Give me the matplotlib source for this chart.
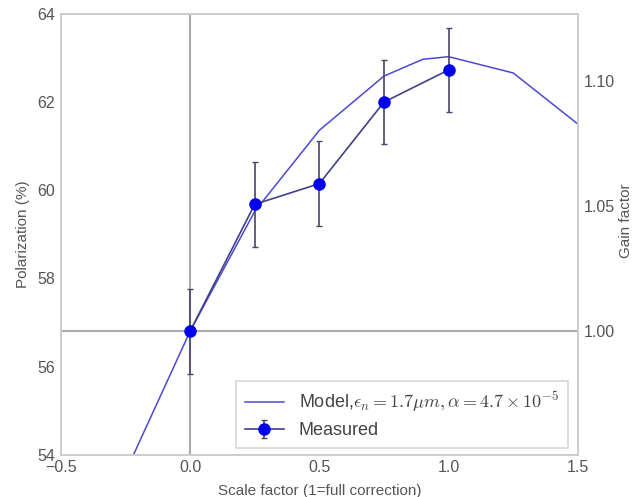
import numpy as np
import matplotlib
matplotlib.use("Agg")
from matplotlib import pyplot as plt

# model curve
model_x = [-0.5, -0.25, 0.0, 0.25, 0.5, 0.75, 0.9, 1.0, 1.25, 1.5]
model_y = [50.4, 53.6, 56.8, 59.52, 61.36, 62.59, 62.97, 63.03, 62.66, 61.5]

# measured points
meas_x = [0.0, 0.25, 0.5, 0.75, 1.0]
meas_y = [56.8, 59.68, 60.15, 62.0, 62.73]
meas_err = [0.96, 0.96, 0.96, 0.96, 0.96]

p0 = 56.8

plt.rcParams['font.family'] = ['Liberation Sans', 'DejaVu Sans']
plt.rcParams['mathtext.fontset'] = 'cm'
grey = '#555555'

fig = plt.figure(figsize=(6.33, 4.97), dpi=100)
ax = fig.add_axes([0.096, 0.085, 0.817, 0.887])

ax.axvline(0, color='#aaaaaa', lw=1.5, zorder=1)
ax.axhline(p0, color='#aaaaaa', lw=1.5, zorder=1)

ax.plot(model_x, model_y, color='#4a4ad0', lw=1.1,
        label=r'Model,$\epsilon_n=1.7\mu m,\alpha=4.7\times10^{-5}$', zorder=2)
ax.errorbar(meas_x, meas_y, yerr=meas_err, color='#404088', lw=1.2,
            marker='o', ms=8, mfc='#0000ee', mec='#0000ee',
            ecolor='#45456a', elinewidth=1.2, capsize=2.5, capthick=1,
            label='Measured', zorder=3)

ax.set_xlim(-0.5, 1.5)
ax.set_ylim(54, 64)
ax.set_xticks([-0.5, 0.0, 0.5, 1.0, 1.5])
ax.set_yticks([54, 56, 58, 60, 62, 64])
ax.set_xlabel('Scale factor (1=full correction)', fontsize=11, color=grey, labelpad=6)
ax.set_ylabel('Polarization (%)', fontsize=11, color=grey, labelpad=5)
ax.tick_params(length=0, labelsize=11.5, labelcolor=grey, pad=4)

ax2 = ax.twinx()
ax2.set_ylim(54 / p0, 64 / p0)
ax2.set_yticks([1.00, 1.05, 1.10])
ax2.set_yticklabels(['1.00', '1.05', '1.10'])
ax2.set_ylabel('Gain factor', fontsize=11, color=grey)
ax2.yaxis.set_label_coords(1.080, 0.53)
ax2.tick_params(length=0, labelsize=11.5, labelcolor=grey, pad=4)

for a in (ax, ax2):
    for s in a.spines.values():
        s.set_color('#cccccc')
        s.set_linewidth(1.2)

leg = ax.legend(loc='lower right', fontsize=13, frameon=True, fancybox=False,
                borderpad=0.5, handlelength=2.2, labelspacing=0.45,
                bbox_to_anchor=(0.998, -0.006))
leg.get_frame().set_edgecolor('#cccccc')
leg.get_frame().set_linewidth(1.2)
for t in leg.get_texts():
    t.set_color('#444444')

fig.savefig('out.png', dpi=100)
